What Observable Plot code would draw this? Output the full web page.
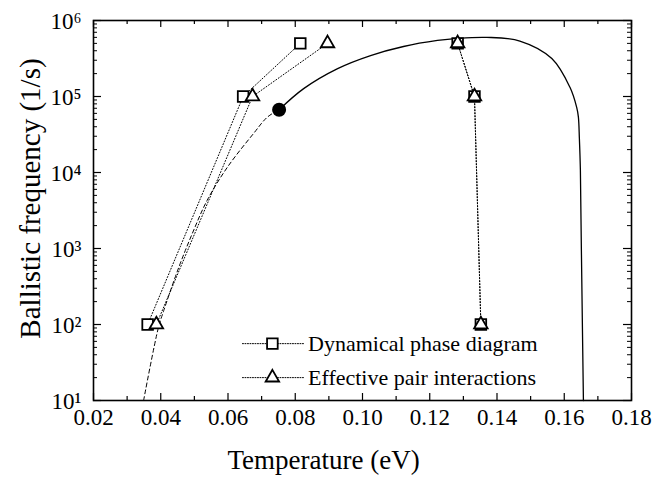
<!DOCTYPE html>
<html><head><meta charset="utf-8">
<script src="https://cdn.jsdelivr.net/npm/d3@7"></script>
<script src="https://cdn.jsdelivr.net/npm/@observablehq/plot@0.6"></script>
<style>body{margin:0;background:#fff}</style>
</head><body><div id="chart"></div>
<script>
// Dynamical phase diagram (squares)
const dpdLeftT = [0.0361, 0.0645, 0.0815];
const dpdLeftF = [1e2, 1e5, 5e5];
const dpdRightT = [0.1283, 0.1333, 0.1352];
const dpdRightF = [5e5, 1e5, 1e2];
// Effective pair interactions (triangles)
const epiLeftT = [0.0387, 0.0673, 0.0896];
const epiLeftF = [1e2, 1e5, 5e5];
const epiRightT = [0.1283, 0.1333, 0.1352];
const epiRightF = [5e5, 1e5, 1e2];
// Theory curve: dashed (low T) and solid parts
const dashT = [0.0349, 0.0393, 0.0409, 0.0454, 0.0494, 0.0538, 0.0598, 0.0676, 0.0717, 0.0752];
const dashF = [10, 91, 153, 570, 1580, 4300, 11700, 32600, 53500, 67000];
const solidT = [0.0752, 0.0825, 0.0926, 0.1024, 0.1122, 0.1223, 0.1283, 0.137, 0.1468, 0.1563, 0.1617, 0.1637, 0.1642, 0.1645, 0.1648, 0.1651, 0.1657];
const solidF = [67000, 127000, 233000, 346000, 455000, 546000, 582000, 600000, 537000, 316000, 132000, 72000, 54000, 28000, 10700, 930, 10];
// Filled marker
const pointT = [0.0752];
const pointF = [67000];
// Axes
const xTicks = [0.02, 0.04, 0.06, 0.08, 0.10, 0.12, 0.14, 0.16, 0.18];
const xTickLabels = ["0.02", "0.04", "0.06", "0.08", "0.10", "0.12", "0.14", "0.16", "0.18"];
const xMinor = [0.03, 0.05, 0.07, 0.09, 0.11, 0.13, 0.15, 0.17];
const yTicks = [1e1, 1e2, 1e3, 1e4, 1e5, 1e6];
const yTickLabels = ["10¹", "10²", "10³", "10⁴", "10⁵", "10⁶"];
const yMinor = yTicks.slice(0, -1).flatMap(p => [2,3,4,5,6,7,8,9].map(k => k * p));
// Legend
const legendLabels = ["Dynamical phase diagram", "Effective pair interactions"];
const legendF = [56, 20];
const legendLineT = [0.0643, 0.0825];
const legendMarkT = 0.0732;
const legendTextT = 0.0838;

const W = 652, H = 482, mL = 93, mR = 21, mT = 20, mB = 82;
const pw = W - mL - mR, ph = H - mT - mB;
const font = "Liberation Serif, Times New Roman, serif";

const pts = (T, F) => T.map((t, i) => ({t, f: F[i]}));
const dotted = {x: "t", y: "f", stroke: "black", strokeWidth: 1, strokeDasharray: "1,2"};
const hollow = {x: "t", y: "f", fill: "white", stroke: "black", strokeWidth: 1.8};

const legendLines = legendF.flatMap((f, i) => legendLineT.map(t => ({t, f, k: i})));
const legendItems = legendF.map((f, i) => ({t: legendTextT, f, label: legendLabels[i]}));

const chart = Plot.plot({
  width: W, height: H,
  marginLeft: mL, marginRight: mR, marginTop: mT, marginBottom: mB,
  style: {fontFamily: font, color: "black", background: "white"},
  x: {domain: [0.02, 0.18], axis: null},
  y: {type: "log", domain: [10, 1e6], axis: null},
  marks: [
    // tick labels
    Plot.text(xTicks, {x: d => d, text: (d, i) => xTickLabels[i], frameAnchor: "bottom", lineAnchor: "top", dy: 8, fontSize: 23, fill: "black"}),
    Plot.text(yTicks, {y: d => d, text: (d, i) => yTickLabels[i], frameAnchor: "left", textAnchor: "end", dx: -12, dy: 1, fontSize: 23, fill: "black"}),
    // inside ticks on all four sides
    Plot.tickX(xTicks, {x: d => d, insetTop: ph - 7, stroke: "black", strokeWidth: 1.2}),
    Plot.tickX(xTicks, {x: d => d, insetBottom: ph - 7, stroke: "black", strokeWidth: 1.2}),
    Plot.tickX(xMinor, {x: d => d, insetTop: ph - 4, stroke: "black", strokeWidth: 1.2}),
    Plot.tickX(xMinor, {x: d => d, insetBottom: ph - 4, stroke: "black", strokeWidth: 1.2}),
    Plot.tickY(yTicks, {y: d => d, insetRight: pw - 8, stroke: "black", strokeWidth: 1.2}),
    Plot.tickY(yTicks, {y: d => d, insetLeft: pw - 8, stroke: "black", strokeWidth: 1.2}),
    Plot.tickY(yMinor, {y: d => d, insetRight: pw - 4, stroke: "black", strokeWidth: 1}),
    Plot.tickY(yMinor, {y: d => d, insetLeft: pw - 4, stroke: "black", strokeWidth: 1}),
    Plot.frame({stroke: "black", strokeWidth: 1.6}),
    // theory curve
    Plot.line(pts(dashT, dashF), {x: "t", y: "f", curve: "catmull-rom", stroke: "black", strokeWidth: 1, strokeDasharray: "4,3"}),
    Plot.line(pts(solidT, solidF), {x: "t", y: "f", curve: "catmull-rom", stroke: "black", strokeWidth: 1.3}),
    // simulation series
    Plot.line(pts(dpdLeftT, dpdLeftF), dotted),
    Plot.line(pts(dpdRightT, dpdRightF), dotted),
    Plot.line(pts(epiLeftT, epiLeftF), dotted),
    Plot.line(pts(epiRightT, epiRightF), dotted),
    Plot.dot(pts(dpdLeftT.concat(dpdRightT), dpdLeftF.concat(dpdRightF)), {...hollow, symbol: "square", r: 6}),
    Plot.dot(pts(epiLeftT.concat(epiRightT), epiLeftF.concat(epiRightF)), {...hollow, symbol: "triangle", r: 5}),
    Plot.dot(pts(pointT, pointF), {x: "t", y: "f", r: 7, fill: "black"}),
    // legend
    Plot.line(legendLines, {x: "t", y: "f", z: "k", stroke: "black", strokeWidth: 1, strokeDasharray: "1,1.5"}),
    Plot.dot([{t: legendMarkT, f: legendF[0]}], {...hollow, symbol: "square", r: 6}),
    Plot.dot([{t: legendMarkT, f: legendF[1]}], {...hollow, symbol: "triangle", r: 5}),
    Plot.text(legendItems, {x: "t", y: "f", text: "label", textAnchor: "start", fontSize: 22, fill: "black"}),
    // axis titles
    Plot.text(["Temperature (eV)"], {frameAnchor: "bottom", textAnchor: "middle", dx: -39, dy: 68, fontSize: 27, fill: "black"}),
    Plot.text(["Ballistic frequency (1/s)"], {frameAnchor: "left", textAnchor: "middle", rotate: -90, dx: -63, dy: -12, fontSize: 29, fill: "black"})
  ]
});
document.getElementById("chart").appendChild(chart);
</script>
</body></html>
